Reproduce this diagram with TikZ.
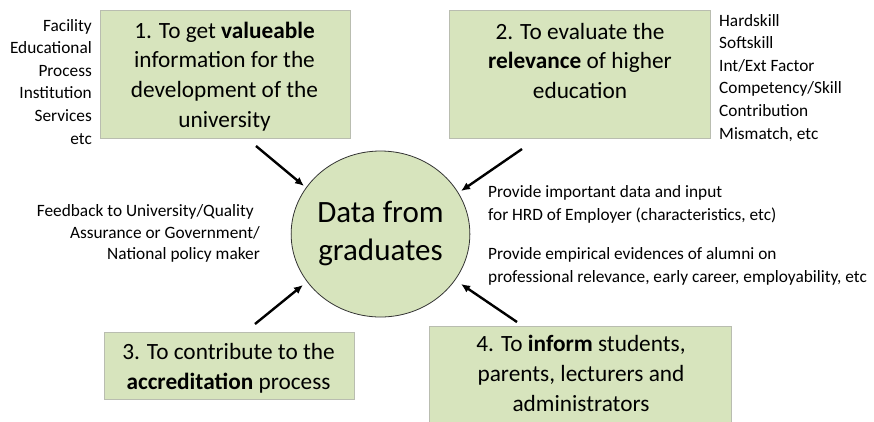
\documentclass[tikz,border=0pt]{standalone}
\usepackage{fontspec}
\setmainfont{Carlito}
\usetikzlibrary{arrows.meta,shapes.geometric}
\definecolor{boxfill}{HTML}{D7E4BD}
\definecolor{boxline}{HTML}{B9BDB0}
\tikzset{
  box/.style={draw=boxline, line width=0.8pt, fill=boxfill, anchor=north west, inner sep=0pt},
  boxtext/.style={align=center, font=\fontsize{23.3}{29.8}\selectfont, inner sep=0pt, anchor=base},
  side/.style={font=\fontsize{17.3}{22.6}\selectfont, inner sep=0pt},
  arr/.style={line width=2.4pt, -{Latex[length=9pt,width=8pt]}},
}
\begin{document}
\begin{tikzpicture}[x=1pt,y=-1pt]
\useasboundingbox (0,0) rectangle (874,421);
% boxes
\node[box, minimum width=250pt, minimum height=128pt] (b1) at (100,10) {};
\node[box, minimum width=261pt, minimum height=128pt] (b2) at (449,10) {};
\node[box, minimum width=250pt, minimum height=67pt] (b3) at (104,332) {};
\node[box, minimum width=302pt, minimum height=110pt] (b4) at (429,326) {};
% texts (base anchor = baseline of last line)
\node[boxtext] (t1) at (224.5,127.4) {1. To get \textbf{valueable}\\information for the\\development of the\\university};
\node[boxtext] (t2) at (580,98.6) {2. To evaluate the\\\textbf{relevance} of higher\\education};
\node[boxtext] (t3) at (228.5,389.3) {3. To contribute to the\\\textbf{accreditation} process};
\node[boxtext] (t4) at (581,411.1) {4. To \textbf{inform} students,\\parents, lecturers and\\administrators};
% circle
\node[ellipse, draw=black!80, line width=0.8pt, fill=boxfill, minimum width=173pt, minimum height=166pt, inner sep=0pt,
  align=center, font=\fontsize{31}{38}\selectfont] (c) at (380.5,234) {Data from\\graduates};
% side lists
\node[side, align=right, anchor=base east] (l1) at (92,144) {Facility\\Educational\\Process\\Institution\\Services\\etc};
\node[side, align=left, anchor=base west] (l2) at (719,139) {Hardskill\\Softskill\\Int/Ext Factor\\Competency/Skill\\Contribution\\Mismatch, etc};
\node[side, align=right, anchor=base east, font=\fontsize{17.3}{21.6}\selectfont] (l3) at (260,259.9) {Feedback to University/Quality\kern6pt\\Assurance or Government/\\National policy maker};
\node[side, align=left, anchor=base west, font=\fontsize{17.3}{23}\selectfont] (l4) at (488,220.7) {Provide important data and input\\for HRD of Employer (characteristics, etc)};
\node[side, align=left, anchor=base west, font=\fontsize{17.3}{23}\selectfont] (l5) at (488,282) {Provide empirical evidences of alumni on\\professional relevance, early career, employability, etc};
% arrows
\coordinate (s1) at (256,146); \coordinate (e1) at (304,186);
\coordinate (s2) at (522,149); \coordinate (e2) at (461,191);
\coordinate (s3) at (255,324); \coordinate (e3) at (303,285);
\coordinate (s4) at (517,322); \coordinate (e4) at (461,284);
\draw[arr] (s1) -- (e1);
\draw[arr] (s2) -- (e2);
\draw[arr] (s3) -- (e3);
\draw[arr] (s4) -- (e4);
\end{tikzpicture}
\end{document}
